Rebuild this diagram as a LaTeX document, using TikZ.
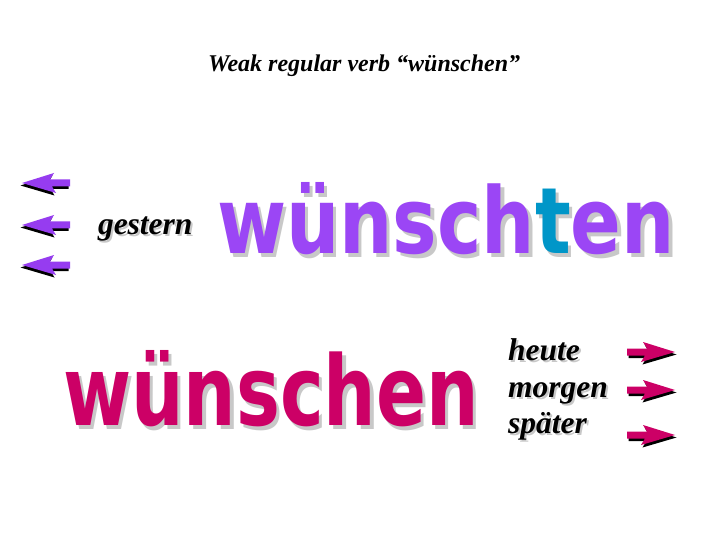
\documentclass[tikz,border=0pt]{standalone}
\usepackage{fontspec}
\setmainfont{Liberation Serif}
\newfontfamily\comicfont{DejaVu Sans}
\usepackage{graphicx}
\definecolor{violetw}{RGB}{155,70,245}
\definecolor{arrowviolet}{RGB}{150,60,240}
\definecolor{tealt}{RGB}{0,150,200}
\definecolor{magw}{RGB}{204,0,102}
\definecolor{shadowgray}{RGB}{200,200,200}
\newcommand{\shadowed}[3]{\rlap{\hspace{#1}\raisebox{-#1}{\textcolor{shadowgray}{#2}}}#3}
\tikzset{
  plain/.style={inner sep=0pt, outer sep=0pt},
  arrowshape/.pic={
    \fill[black] (1.5,2.5) -- (-30.5,-7.5) -- (-26.5,-1) -- (-46.5,-1) -- (-46.5,6) -- (-28.5,6) -- (-32.5,12.5) -- cycle;
    \fill[#1] (0,0) -- (-32,-10) -- (-28,-3.5) -- (-48,-3.5) -- (-48,3.5) -- (-30,3.5) -- (-34,10) -- cycle;
  },
  timeword/.style={plain, anchor=base west, font=\fontsize{31.5}{37}\selectfont\bfseries\itshape},
}
\begin{document}
\begin{tikzpicture}[x=1pt,y=-1pt]
\useasboundingbox (0,0) rectangle (720,540);
\fill[white] (0,0) rectangle (720,540);
% title
\node[plain, anchor=base west, font=\fontsize{24}{28}\selectfont\bfseries\itshape] (title) at (208,72) {Weak regular verb “wünschen”};
% left arrows
\pic at (22,183) [xscale=-1] {arrowshape=arrowviolet};
\pic at (22,225) [xscale=-1] {arrowshape=arrowviolet};
\pic at (22,265) [xscale=-1] {arrowshape=arrowviolet};
% gestern
\node[timeword] (gestern) at (98,234) {\shadowed{2pt}{gestern}{gestern}};
% wünschten
\node[plain, anchor=base west] (wten) at (217,253) {\resizebox{458pt}{71pt}{\comicfont\bfseries\shadowed{0.45pt}{wünschten}{\color{violetw}wünsch\textcolor{tealt}{t}en}}};
% wünschen
\node[plain, anchor=base west] (wen) at (63,425) {\resizebox{416pt}{75pt}{\comicfont\bfseries\shadowed{0.45pt}{wünschen}{\textcolor{magw}{wünschen}}}};
% heute morgen später
\node[timeword] (heute) at (508,360) {\shadowed{2pt}{heute}{heute}};
\node[timeword] (morgen) at (508,397) {\shadowed{2pt}{morgen}{morgen}};
\node[timeword] (spaeter) at (508,433) {\shadowed{2pt}{später}{später}};
% right arrows
\pic at (675,352) {arrowshape=magw};
\pic at (675,390) {arrowshape=magw};
\pic at (675,435) {arrowshape=magw};
\end{tikzpicture}
\end{document}
